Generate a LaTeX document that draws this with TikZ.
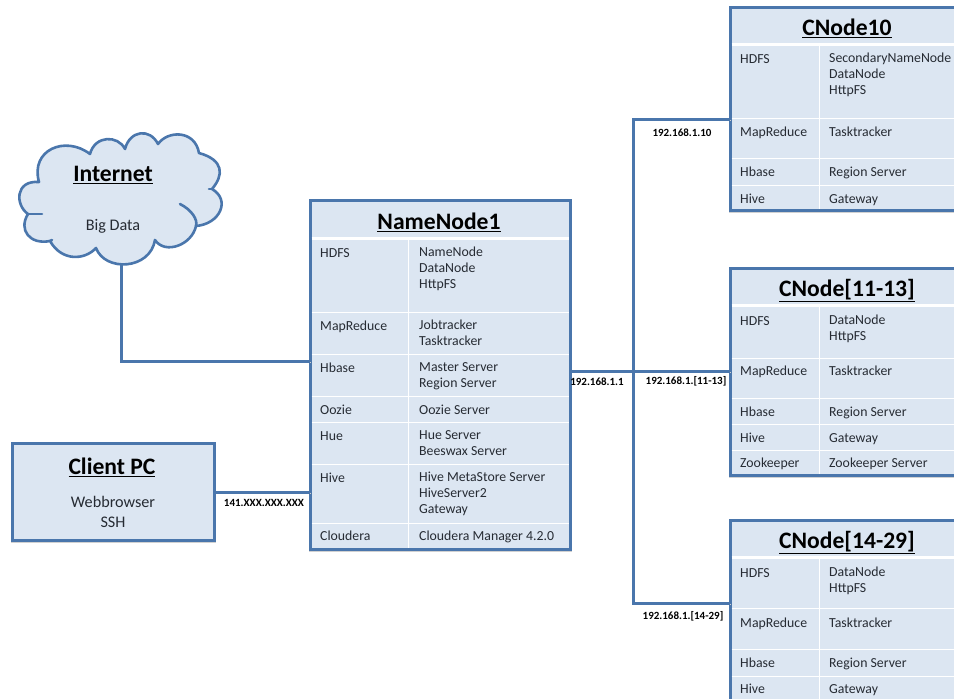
\documentclass[tikz,border=0pt]{standalone}
\usepackage{fontspec}
\setmainfont{Carlito}
\usepackage{xcolor}
\usetikzlibrary{calc}
\definecolor{edge}{HTML}{4A76AC}
\definecolor{panel}{HTML}{DCE6F2}
\definecolor{ink}{HTML}{262B33}
\tikzset{
  soft/.style={preaction={draw=black!18, transform canvas={xshift=0.6pt, yshift=-1pt}}},
  box/.style={draw=edge, fill=panel, line width=3pt, inner sep=0pt, outer sep=0pt, anchor=north west, soft},
  link/.style={draw=edge, line width=3pt, soft},
  heading/.style={text=black, font=\fontsize{23.6}{26}\selectfont\bfseries, yshift=-1.2pt},
  cell/.style={text=ink, font=\fontsize{13.8}{16}\selectfont, align=left, anchor=north west, inner sep=0pt, yshift=4.8pt, execute at begin node={\rule{0pt}{10pt}}},
  plain/.style={text=ink, font=\fontsize{16.2}{18}\selectfont, yshift=-0.8pt},
  addr/.style={text=black, font=\fontsize{11}{12}\selectfont\bfseries, yshift=-0.6pt},
  rowLine/.style={draw=white, line width=1pt},
  headLine/.style={draw=white, line width=3pt}
}

\begin{document}
\begin{tikzpicture}[x=1pt,y=-1pt]
\useasboundingbox (0,0) rectangle (954,699);

% cloud
\filldraw[draw=edge, fill=panel, line width=2.6pt, line join=round] (39,182)
  .. controls (30,150) and (65,135) .. (90,154)
  .. controls (95,135) and (118,135) .. (125,149)
  .. controls (130,130) and (150,128) .. (158,144)
  .. controls (168,130) and (195,130) .. (199,153)
  .. controls (224,160) and (224,175) .. (212,189)
  .. controls (231,200) and (220,224) .. (196,226)
  .. controls (192,245) and (165,255) .. (155,240)
  .. controls (150,270) and (105,272) .. (96,248)
  .. controls (85,260) and (62,262) .. (50,241)
  .. controls (30,245) and (18,230) .. (28,214)
  .. controls (15,205) and (15,180) .. (39,182) -- cycle;
\draw[edge, line width=2.6pt, line cap=round] (180,204) .. controls (192,210) and (198,220) .. (196,226);
\draw[edge, line width=2.6pt, line cap=round] (28,214) -- (42,214);
\draw[edge, line width=2.6pt, line cap=round] (50,241) -- (52,240);
\draw[edge, line width=2.6pt, line cap=round] (212,189) -- (209,189);
\coordinate (cloudBottom) at (121,265);
\node[heading] (internetTitle) at (113,174) {\underline{Internet}};
\node[plain] (bigData) at (113,226) {Big Data};

% client
\node[box, minimum width=202pt, minimum height=97pt] (client) at (12,443) {};
\node[heading] (clientTitle) at (112,466) {\underline{Client PC}};
\node[plain] (browser) at (113,501) {Webbrowser};
\node[plain] (ssh) at (113,521) {SSH};

% name node
\node[box, minimum width=260pt, minimum height=349pt] (nameNode) at (310,200) {};
\draw[headLine] (311.5,238.5)--(568.5,238.5);
\draw[rowLine] (408,240)--(408,547.5);
\foreach \y in {312,354,396,422,464,523}
  \draw[rowLine] (311.5,\y)--(568.5,\y);
\node[heading] (nameTitle) at (439,221) {\underline{NameNode1}};
\foreach \y/\a/\b [count=\n] in {
  252/HDFS/{NameNode\\DataNode\\HttpFS},
  325/MapReduce/{Jobtracker\\Tasktracker},
  367/Hbase/{Master Server\\Region Server},
  409/Oozie/{Oozie Server},
  435/Hue/{Hue Server\\Beeswax Server},
  477/Hive/{Hive MetaStore Server\\HiveServer2\\Gateway},
  535/Cloudera/{Cloudera Manager 4.2.0}}{
  \node[cell] (nameA\n) at (320,\y) {\a};
  \node[cell] (nameB\n) at (419,\y) {\b};
}

% cnode 10
\node[box, minimum width=234pt, minimum height=203pt] (cnodeA) at (730,7) {};
\draw[headLine] (731.5,44.5)--(962,44.5);
\draw[rowLine] (819,46)--(819,208.5);
\foreach \y in {118,158,185}
  \draw[rowLine] (731.5,\y)--(962,\y);
\node[heading] (cnodeATitle) at (847,27) {\underline{CNode10}};
\foreach \y/\a/\b [count=\n] in {
  58/HDFS/{SecondaryNameNode\\DataNode\\HttpFS},
  131/MapReduce/{Tasktracker},
  171/Hbase/{Region Server},
  198/Hive/{Gateway}}{
  \node[cell] (cnodeAL\n) at (740,\y) {\a};
  \node[cell] (cnodeAR\n) at (829,\y) {\b};
}

% cnode 11-13
\node[box, minimum width=234pt, minimum height=207pt] (cnodeB) at (730,268) {};
\draw[headLine] (731.5,305.5)--(962,305.5);
\draw[rowLine] (819,307)--(819,473.5);
\foreach \y in {358,398,424,450}
  \draw[rowLine] (731.5,\y)--(962,\y);
\node[heading] (cnodeBTitle) at (847,289) {\underline{CNode[11-13]}};
\foreach \y/\a/\b [count=\n] in {
  320/HDFS/{DataNode\\HttpFS},
  370/MapReduce/{Tasktracker},
  411/Hbase/{Region Server},
  437/Hive/{Gateway},
  462/Zookeeper/{Zookeeper Server}}{
  \node[cell] (cnodeBL\n) at (740,\y) {\a};
  \node[cell] (cnodeBR\n) at (829,\y) {\b};
}

% cnode 14-29
\node[box, minimum width=234pt, minimum height=200pt] (cnodeC) at (730,520) {};
\draw[headLine] (731.5,557.5)--(962,557.5);
\draw[rowLine] (819,559)--(819,710);
\foreach \y in {608,649,676}
  \draw[rowLine] (731.5,\y)--(962,\y);
\node[heading] (cnodeCTitle) at (847,541) {\underline{CNode[14-29]}};
\foreach \y/\a/\b [count=\n] in {
  572/HDFS/{DataNode\\HttpFS},
  622/MapReduce/{Tasktracker},
  662/Hbase/{Region Server},
  688/Hive/{Gateway}}{
  \node[cell] (cnodeCL\n) at (740,\y) {\a};
  \node[cell] (cnodeCR\n) at (829,\y) {\b};
}

% links
\coordinate (busTop) at (633,119);
\coordinate (busBottom) at (633,603);
\draw[link] (cloudBottom) |- (nameNode.west |- 0,361);
\draw[link] (client.east |- 0,492) -- (nameNode.west |- 0,492);
\draw[link] (nameNode.east |- 0,371) -- (cnodeB.west |- 0,371);
\draw[link] (cnodeA.west |- busTop) -- (busTop) -- (busBottom) -- (cnodeC.west |- busBottom);

\node[addr] (addrClient) at (264,502) {141.XXX.XXX.XXX};
\node[addr] (addrName) at (597,381) {192.168.1.1};
\node[addr] (addrA) at (682,132) {192.168.1.10};
\node[addr] (addrB) at (686,381) {192.168.1.[11-13]};
\node[addr] (addrC) at (683,616) {192.168.1.[14-29]};
\end{tikzpicture}
\end{document}
